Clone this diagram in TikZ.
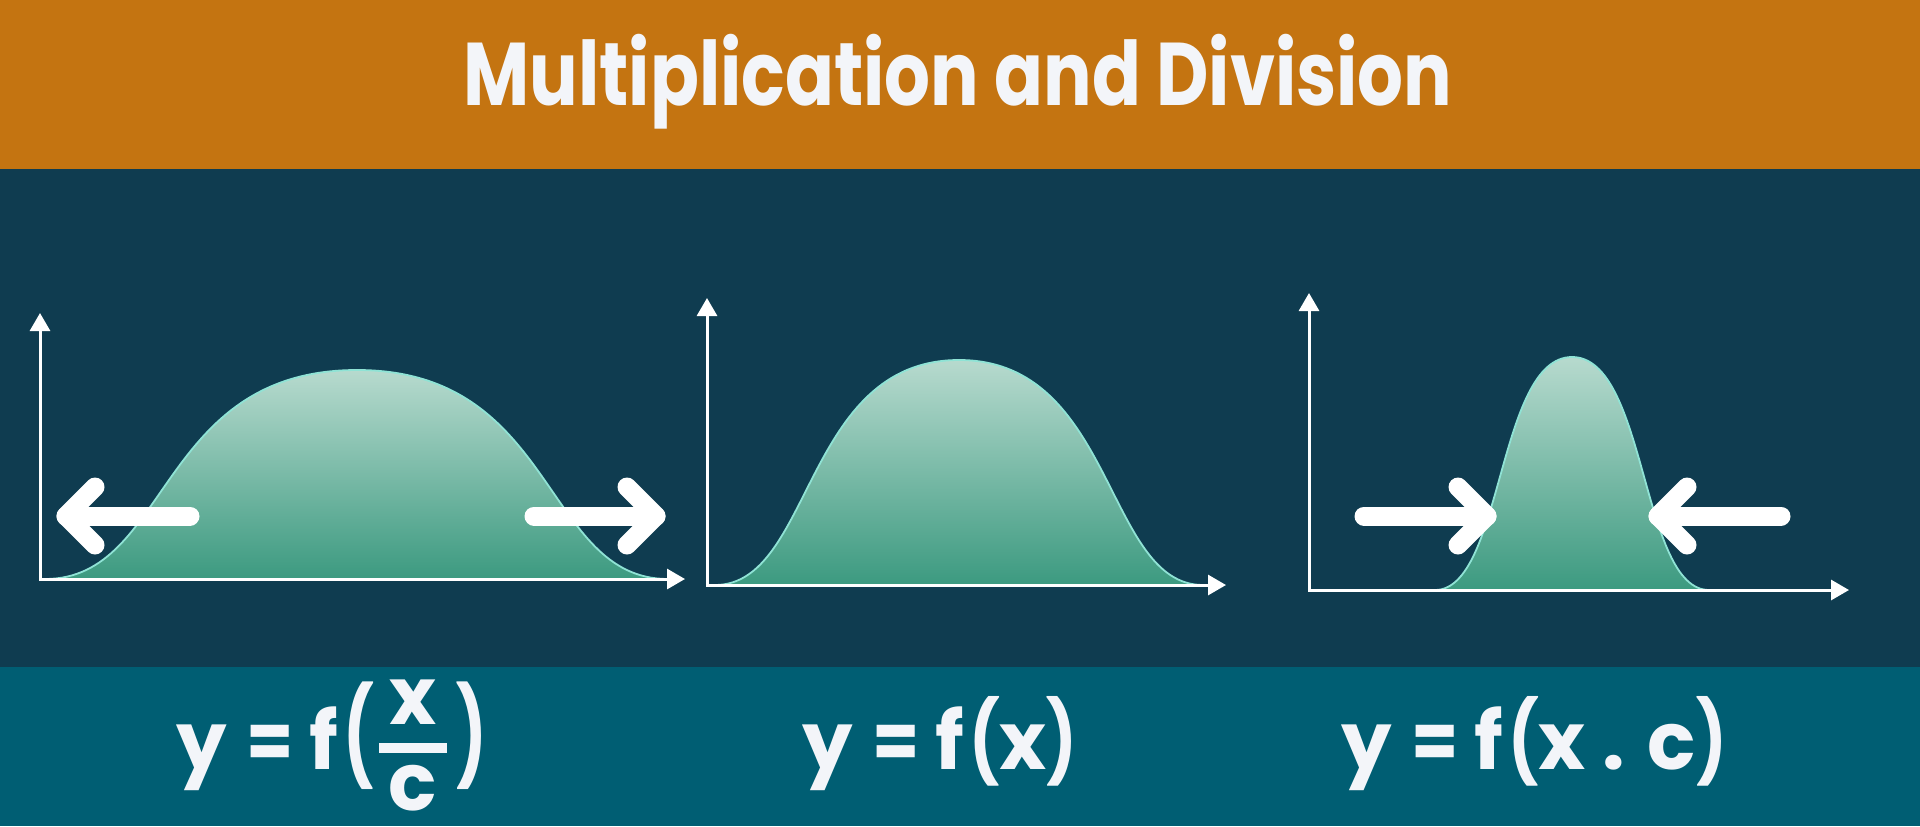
\documentclass[tikz,border=0pt]{standalone}
\usepackage{fontspec}
\setmainfont{Poppins}
\usepackage{graphicx}
\usetikzlibrary{arrows.meta, positioning}

\definecolor{bandorange}{HTML}{C47411}
\definecolor{bandnavy}{HTML}{0F3C50}
\definecolor{bandteal}{HTML}{005E73}
\definecolor{mintlight}{HTML}{B7DACE}
\definecolor{mintdark}{HTML}{3C9A80}
\definecolor{mintedge}{HTML}{8FE3D5}
\definecolor{chalk}{HTML}{F3F5F9}

\newcommand{\eqs}{\hspace{0.24em}\scalebox{0.85}[1]{=}\hspace{0.2em}}
\newcommand{\lp}{\hspace{0.06em}\scalebox{0.8}[1]{(}}
\newcommand{\rp}{\scalebox{0.8}[1]{)}}

\tikzset{
  axis/.style={draw=white, line width=1.5pt,
    {Triangle[length=9pt,width=10pt]}-{Triangle[length=9pt,width=10pt]}},
  bell/.style={draw=mintedge, line width=0.9pt, top color=mintlight, bottom color=mintdark},
  push/.style={draw=white, line width=9.5pt, line cap=round, line join=round},
  eq/.style={text=chalk, font=\fontsize{40}{48}\selectfont\bfseries, inner sep=0pt},
}

\begin{document}
\begin{tikzpicture}[x=0.5pt, y=-0.5pt]
  % bands
  \fill[bandorange] (0,0) rectangle (1920,169);
  \fill[bandnavy] (0,169) rectangle (1920,667);
  \fill[bandteal] (0,667) rectangle (1920,826);
  \useasboundingbox (0,0) rectangle (1920,826);

  \node[text=chalk, font=\fontsize{44.5}{50}\selectfont\bfseries, anchor=base,
        inner sep=0pt] (title) at (958,105)
        {\scalebox{0.81}[1]{Multiplication and Division}};

  % graph 1: divided, wider bell
  \coordinate (ya) at (40,313);
  \coordinate (xa) at (685,579);
  \path[bell] (45,579) .. controls (170,579) and (157,370) .. (357,370)
              .. controls (557,370) and (543,579) .. (668,579) -- cycle;
  \draw[axis] (ya) |- (xa);
  \draw[push] (190,516) -- (66,516);
  \draw[push] (95,487) -- (66,516) -- (95,545);
  \draw[push] (534,516) -- (656,516);
  \draw[push] (627,487) -- (656,516) -- (627,545);

  % graph 2: original
  \coordinate (yb) at (707,298);
  \coordinate (xb) at (1226,585);
  \path[bell] (715,585) .. controls (813,585) and (803,360) .. (959,360)
              .. controls (1115,360) and (1105,585) .. (1203,585) -- cycle;
  \draw[axis] (yb) |- (xb);

  % graph 3: multiplied, narrower bell
  \coordinate (yc) at (1309,293);
  \coordinate (xc) at (1849,590);
  \path[bell] (1435,590) .. controls (1503,590) and (1497,357) .. (1572,357)
              .. controls (1647,357) and (1641,590) .. (1709,590) -- cycle;
  \draw[axis] (yc) |- (xc);
  \draw[push] (1364,516) -- (1487,516);
  \draw[push] (1458,487) -- (1487,516) -- (1458,545);
  \draw[push] (1781,516) -- (1658,516);
  \draw[push] (1687,487) -- (1658,516) -- (1687,545);

  % formulas
  \node[eq, anchor=base west] (lhsA) at (176,769)
        {y\eqs f\hspace{0.06em}\scalebox{0.8}[1.2]{(}};
  \node[eq, anchor=base] (numA) at (413,724) {x};
  \node[eq, anchor=base] (denA) at (413,810) {c};
  \draw[chalk, line width=5pt] (379,748) -- (447,748);
  \node[eq, anchor=base west] (rpA) at (456,769) {\scalebox{0.8}[1.2]{)}};

  \node[eq, anchor=base] (eqB) at (940,769) {y\eqs f\lp x\rp};
  \node[eq, anchor=base] (eqC) at (1534,769) {y\eqs f\lp x . c\rp};
\end{tikzpicture}
\end{document}
